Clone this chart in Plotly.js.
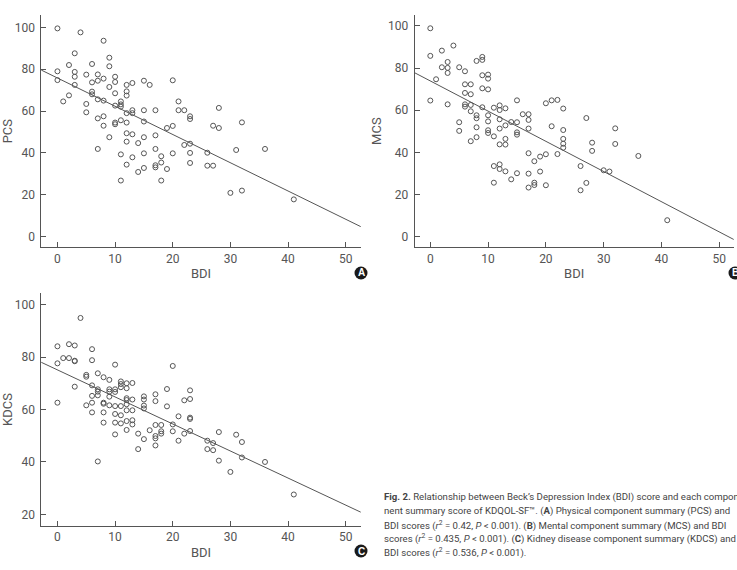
<!DOCTYPE html>
<html>
<head>
<meta charset="utf-8">
<script src="https://cdn.plot.ly/plotly-3.0.1.min.js"></script>
<style>
  html, body { margin: 0; padding: 0; background: #fff; overflow: hidden; }
  #chart { width: 737px; height: 570px; }
</style>
</head>
<body>
<div id="chart"></div>
<script>
// Beck's Depression Index (BDI) vs. KDQOL-SF component summary scores

// (A) Physical component summary
const bdiA = [0,4,8,3,9,2,6,9,0,3, 3,5,7,10,8,0,7,6,10,13, 15,20,16,12,3,9,12,6,6,10,
  2,12,7,8,1,11,21,5,10,11, 11,5,13,13,12,15,17,21,22,28, 23,23,7,8,11,12,10,10,15,32,
  8,27,20,28,19,12,13,17,9,15, 12,14,23,22,7,17,36,31,15,20, 23,26,11,18,13,18,23,12,17,17,
  26,27,15,19,14,11,18,30,32,41];
const pcs = [99.5,97.6,93.6,87.6,85.5,82,82.5,81.4,79,78.7, 76.4,77.4,77.5,76.4,75.5,74.8,74.5,73.7,73.9,73.4,
  74.5,74.7,72.5,72.5,72.5,71.5,69.4,69.3,68,68.5, 67.5,67.4,65.6,65,64.6,64.6,64.6,63.4,62.6,63.2,
  62.1,59.4,60.4,59,59,60.4,60.4,60.4,60.4,61.5, 57.5,56.2,56.5,57.5,55.6,54.5,54.5,53.7,55,54.6,
  53,53,52.9,51.9,51.9,49.4,48.9,48.4,47.5,47.5, 45.4,44.7,44.4,43.8,41.9,41.9,41.9,41.4,39.8,39.8,
  40,40.1,39.3,38.4,37.9,35.4,35.2,34.4,34.1,33.1, 33.9,33.9,32.8,32.3,30.9,26.8,26.8,20.9,22,17.8];

// (B) Mental component summary
const bdiB = [0,0,0,1,2,2,3,3,3,3, 4,5,5,5,6,6,6,6,6,7, 7,7,7,7,8,8,8,8,8,9,
  9,9,9,9,10,10,10,10,10,10, 10,11,11,11,11,12,12,12,12,12, 12,12,13,13,13,13,13,14,14,15,
  15,15,15,15,16,17,17,17,17,17, 17,18,18,18,19,19,20,20,20,21, 21,22,22,23,23,23,23,23,26,26,
  27,27,28,28,30,31,32,32,36,41];
const mcs = [98.9,85.8,64.6,74.7,88.3,80.4,82.9,80.1,77.7,62.8, 90.7,80.4,54.3,50.2,78.5,72.3,68.2,62.8,61.7,72.3,
  67.6,62.5,59.5,45.3,83.4,57.6,56.2,51.9,47.2,85.3, 83.9,76.6,70.4,61.4,76.9,75,69.9,57.6,54.7,50.5,
  49.2,61.2,47.6,33.5,25.6,62.3,60.1,55.7,51.3,43.8, 34.3,32.1,60.9,52.8,46.4,43.7,31,54.4,27.2,64.7,
  54.3,49.5,48.4,30.1,58.1,58.1,55.4,51.3,39.6,29.9, 23.3,35.8,25.6,24.5,38,30.9,63.3,39.1,24.4,64.7,
  52.4,64.9,39.2,60.8,50.6,46.4,44.1,42.2,33.5,22, 56.3,25.5,44.6,40.7,31.5,30.9,51.4,44,38.3,7.8];

// (C) Kidney disease component summary
const bdiC = [0,0,0,1,2,2,3,3,3,3, 4,5,5,5,6,6,6,6,6,6, 7,7,7,7,7,8,8,8,8,8,
  9,9,9,9,9,10,10,10,10,10, 10,10,11,11,11,11,11,11,12,12, 12,12,12,12,12,12,13,13,13,13,
  13,14,14,15,15,15,15,15,16,17, 17,17,17,17,17,18,18,18,19,19, 20,20,20,21,21,22,22,23,23,23,
  23,23,26,26,27,27,28,28,30,31, 32,32,36,41];
const kdcs = [84.1,77.6,62.6,79.6,84.9,79.6,84.4,78.6,78.4,68.7, 94.9,73.2,72.5,61.6,83,78.8,69.2,65.2,62.6,58.9,
  73.8,67.7,66.8,65.4,40.2,72.3,62.6,62.2,58.9,55, 71.3,67.7,66.8,64.9,61.6,77.1,67.7,66.7,61.3,58.3,
  55,50.5,70.7,69.7,68.5,61.3,57.8,54.7,70,68.1, 64.3,63.6,62,59.7,55.6,52.2,70.1,63.8,59.7,55.9,
  54.3,50.8,44.9,65,63.8,61.5,60.4,48.7,52.1,65.8, 63.2,54.1,49.9,49,46.3,54.1,51.7,50.8,67.8,61.2,
  76.6,54.3,51.7,57.4,48.1,63.5,50.8,67.3,64,56.9, 56.4,51.8,48.1,44.9,47.2,44.5,51.4,40.5,36.2,50.4,
  47.6,41.7,40,27.6];

// Least-squares fit lines (intercept, slope)
const fitA = { intercept: 75.8, slope: -1.35 };
const fitB = { intercept: 73.9, slope: -1.433 };
const fitC = { intercept: 75.1, slope: -1.031 };

const xTicks = [0, 10, 20, 30, 40, 50];
const yTicksAB = [0, 20, 40, 60, 80, 100];
const yTicksC = [20, 40, 60, 80, 100];
const xRange = [-2.8, 52.6];

const ink = '#555';
const FONT = 'Roboto, "Liberation Sans", Arial, sans-serif';

function fitLine(fit, range) {
  const xs = [range[0] - 1, range[1] + 1];
  return xs.map(x => fit.intercept + fit.slope * x);
}

function pts(x, y, xa, ya) {
  return { x: x, y: y, xaxis: xa, yaxis: ya, type: 'scatter', mode: 'markers',
    marker: { symbol: 'circle-open', size: 5, color: ink, line: { width: 1, color: ink } },
    hoverinfo: 'x+y', showlegend: false };
}
function line(fit, xa, ya) {
  return { x: [xRange[0] - 1, xRange[1] + 1], y: fitLine(fit, xRange), xaxis: xa, yaxis: ya,
    type: 'scatter', mode: 'lines', line: { color: ink, width: 1 }, hoverinfo: 'skip', showlegend: false };
}

const data = [
  pts(bdiA, pcs, 'x', 'y'), line(fitA, 'x', 'y'),
  pts(bdiB, mcs, 'x2', 'y2'), line(fitB, 'x2', 'y2'),
  pts(bdiC, kdcs, 'x3', 'y3'), line(fitC, 'x3', 'y3')
];

function xAxis(domain, anchor, range) {
  return { domain: domain, anchor: anchor, range: range, tickvals: xTicks,
    showline: true, linecolor: ink, linewidth: 1, ticks: 'inside', ticklen: 5, tickcolor: ink,
    showgrid: false, zeroline: false, tickfont: { family: FONT, size: 12, color: ink },
    title: { text: 'BDI', font: { family: FONT, size: 13, color: ink }, standoff: 4 } };
}
function yAxis(domain, anchor, range, ticks, name) {
  return { domain: domain, anchor: anchor, range: range, tickvals: ticks,
    showline: true, linecolor: ink, linewidth: 1, ticks: 'inside', ticklen: 5, tickcolor: ink,
    showgrid: false, zeroline: false, tickfont: { family: FONT, size: 12, color: ink },
    ticklabelstandoff: 3,
    title: { text: name, font: { family: FONT, size: 13, color: ink }, standoff: 3 } };
}

const W = 737, H = 570;
const px = v => v / W, py = v => 1 - v / H;

const domAx = [px(41.3), px(360.7)];
const domBx = [px(414.7), px(733.7)];
const domTop = [py(247.3), py(15)];
const domBot = [py(525.7), py(293.3)];

// Panel badges
function badge(cx, cy, letter) {
  const r = 6.5;
  return {
    shape: { type: 'circle', xref: 'paper', yref: 'paper',
      x0: px(cx - r), x1: px(cx + r), y0: py(cy + r), y1: py(cy - r),
      fillcolor: '#1a1a1a', line: { width: 0 } },
    ann: { xref: 'paper', yref: 'paper', x: px(cx), y: py(cy), xanchor: 'center', yanchor: 'middle',
      text: '<b>' + letter + '</b>', showarrow: false,
      font: { family: '"Liberation Sans", Arial, sans-serif', size: 10, color: '#fff' } }
  };
}
const badges = [badge(361, 273, 'A'), badge(735, 273, 'B'), badge(361, 551, 'C')];

// Figure caption
const captionLines = [
  '<b>Fig. 2.</b> Relationship between Beck\u2019s Depression Index (BDI) score and each component',
  'nent summary score of KDQOL-SF\u2122. (<b>A</b>) Physical component summary (PCS) and',
  'BDI scores (<i>r</i><sup>2</sup> = 0.42, <i>P</i> &lt; 0.001). (<b>B</b>) Mental component summary (MCS) and BDI',
  'scores (<i>r</i><sup>2</sup> = 0.435, <i>P</i> &lt; 0.001). (<b>C</b>) Kidney disease component summary (KDCS) and',
  'BDI scores (<i>r</i><sup>2</sup> = 0.536, <i>P</i> &lt; 0.001).'
];
const captionY = [497.3, 510.9, 525, 538.6, 552.2];
const captionAnns = captionLines.map((t, i) => ({
  xref: 'paper', yref: 'paper', x: px(381.5), y: py(captionY[i]), xanchor: 'left', yanchor: 'middle',
  text: t, showarrow: false, align: 'left',
  font: { family: FONT, size: 9.6, color: '#444' }
}));

const layout = {
  width: W, height: H,
  margin: { l: 0, r: 0, t: 0, b: 0 },
  paper_bgcolor: '#fff', plot_bgcolor: '#fff',
  showlegend: false,
  xaxis: xAxis(domAx, 'y', xRange),
  yaxis: yAxis(domTop, 'x', [-5.1, 105.9], yTicksAB, 'PCS'),
  xaxis2: xAxis(domBx, 'y2', [-2.7, 52.5]),
  yaxis2: yAxis(domTop, 'x2', [-5.06, 105.2], yTicksAB, 'MCS'),
  xaxis3: xAxis(domAx, 'y3', xRange),
  yaxis3: yAxis(domBot, 'x3', [15.7, 104.3], yTicksC, 'KDCS'),
  shapes: badges.map(b => b.shape),
  annotations: badges.map(b => b.ann).concat(captionAnns)
};

Plotly.newPlot('chart', data, layout, { displayModeBar: false, staticPlot: true });
</script>
</body>
</html>
